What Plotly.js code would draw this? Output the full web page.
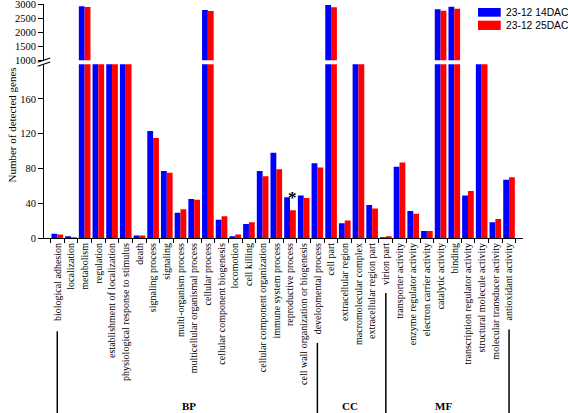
<!DOCTYPE html>
<html>
<head>
<meta charset="utf-8">
<script src="https://cdn.plot.ly/plotly-3.0.1.min.js"></script>
<style>html,body{margin:0;padding:0;background:#fff;}#chart{width:568px;height:413px;}</style>
</head>
<body>
<div id="chart"></div>
<script>
// ---- data ----
const categories = [
  'biological adhesion','localization','metabolism','regulation','establishment of localization',
  'physiological response to stimulus','death','signaling process','signaling','multi-organism process',
  'multicellular organismal process','cellular process','cellular component biogenesis','locomotion',
  'cell killing','cellular component organization','immune system process','reproductive process',
  'cell wall organization or biogenesis','developmental process',
  'cell part','extracellular region','macromolecular complex','extracellular region part','virion part',
  'transporter activity','enzyme regulator activity','electron carrier activity','catalytic activity',
  'binding','transcription regulator activity','structural molecule activity',
  'molecular transducer activity','antioxidant activity'
];
const seriesNames = ['23-12 14DAC', '23-12 25DAC'];
const dac14 = [5,2,2920,620,560,480,3,123,77,29,45,2790,21,2,16,77,98,47,49,86,2960,17,700,38,1,82,31,8,2810,2900,49,260,18,67];
const dac25 = [4,1,2890,610,550,470,3,115,75,33,44,2755,25,4,18,71,79,32,46,81,2880,20,690,34,2,87,28,8,2760,2830,54,250,22,70];
const groupNames = ['BP', 'CC', 'MF'];
const groupEdges = ['biological adhesion', 'developmental process', 'virion part', 'antioxidant activity'];
const lowerTicks = [0, 40, 80, 120, 160];
const upperTicks = [1000, 1500, 2000, 2500, 3000];
const markedCategory = 'reproductive process';
const markedValue = 49;

// ---- layout helpers (pixel -> paper) ----
const W = 568, H = 413;
const L = 44.3, R = 523.3, T = 4, B = 238.3;
const px = v => (v - L) / (R - L);
const py = v => (B - v) / (B - T);
const idx = name => categories.indexOf(name);

const blue = '#0000FF', red = '#FF0000';
const serif = '"Liberation Serif", "Times New Roman", serif';

const traces = [];
['y', 'y2'].forEach(ya => {
  traces.push({type: 'bar', x: categories, y: dac14, name: seriesNames[0], marker: {color: blue, line: {width: 0}}, xaxis: 'x', yaxis: ya, showlegend: false, hoverinfo: 'none'});
  traces.push({type: 'bar', x: categories, y: dac25, name: seriesNames[1], marker: {color: red, line: {width: 0}}, xaxis: 'x', yaxis: ya, showlegend: false, hoverinfo: 'none'});
});

const shapes = [];
const annotations = [];

// axis break marks
[62.3, 66.3].forEach(yc => {
  shapes.push({type: 'line', xref: 'paper', yref: 'paper', x0: px(38), y0: py(yc), x1: px(50.5), y1: py(yc - 4.2), line: {color: '#000', width: 1.2}});
});

// group bracket lines
const lineTops = [331.7, 343.3, 293.3, 330];
groupEdges.forEach((c, i) => {
  shapes.push({type: 'line', xref: 'x', yref: 'paper', x0: idx(c), x1: idx(c), y0: py(lineTops[i]), y1: py(H + 2), line: {color: '#000', width: 1.5}});
});

// group labels
const groupLabelX = [9.6, 21.4, 28.2];
groupNames.forEach((g, i) => {
  annotations.push({xref: 'x', yref: 'paper', x: groupLabelX[i], y: py(407), text: '<b>' + g + '</b>', showarrow: false, xanchor: 'center', yanchor: 'middle', font: {family: serif, size: 11, color: '#000'}});
});

// y axis title
annotations.push({xref: 'paper', yref: 'paper', x: px(12), y: py(125), text: 'Number of detected genes', textangle: -90, showarrow: false, xanchor: 'center', yanchor: 'middle', font: {family: serif, size: 11, color: '#000'}});

// significance mark
annotations.push({xref: 'x', yref: 'y', x: idx(markedCategory), y: markedValue, text: '<b>*</b>', showarrow: false, xanchor: 'center', yanchor: 'middle', xshift: 2, yshift: -2, font: {family: serif, size: 17, color: '#000'}});

// custom legend
const swY = [[8, 16.7], [20.7, 30]];
[blue, red].forEach((col, i) => {
  shapes.push({type: 'rect', xref: 'paper', yref: 'paper', x0: px(478.3), x1: px(501), y0: py(swY[i][0]), y1: py(swY[i][1]), fillcolor: col, line: {width: 0}});
  annotations.push({xref: 'paper', yref: 'paper', x: px(504), y: py((swY[i][0] + swY[i][1]) / 2), text: seriesNames[i], showarrow: false, xanchor: 'left', yanchor: 'middle', font: {family: '"Liberation Sans", Arial, sans-serif', size: 10.3, color: '#000'}});
});

const yCommon = {
  anchor: 'x',
  showline: true, linecolor: '#000', linewidth: 1,
  ticks: 'outside', ticklen: 5, tickcolor: '#000',
  tickfont: {family: serif, size: 10.5, color: '#000'},
  ticklabeloverflow: 'allow',
  showgrid: false, zeroline: false, fixedrange: true
};

const layout = {
  width: W, height: H,
  margin: {l: L, r: W - R, t: T, b: H - B, pad: 0},
  paper_bgcolor: '#fff', plot_bgcolor: '#fff',
  barmode: 'group', bargap: 0.15, bargroupgap: 0,
  showlegend: false,
  hovermode: false,
  xaxis: {
    type: 'category', range: [-0.97, 34.02], anchor: 'y',
    showline: true, linecolor: '#000', linewidth: 1,
    ticks: 'outside', tickson: 'boundaries', ticklen: 4, tickcolor: '#000', tickwidth: 1,
    tickangle: -90, tickfont: {family: serif, size: 10, color: '#000'},
    ticklabeloverflow: 'allow',
    showgrid: false, zeroline: false, fixedrange: true
  },
  yaxis: Object.assign({}, yCommon, {
    domain: [0, py(64.3)], range: [0, 200],
    tickvals: lowerTicks, ticktext: lowerTicks.map(String)
  }),
  yaxis2: Object.assign({}, yCommon, {
    domain: [py(60.3), 1], range: [1000, 3000],
    tickvals: upperTicks, ticktext: upperTicks.map(String)
  }),
  shapes: shapes,
  annotations: annotations
};

Plotly.newPlot('chart', traces, layout, {staticPlot: true, displayModeBar: false});
</script>
</body>
</html>
